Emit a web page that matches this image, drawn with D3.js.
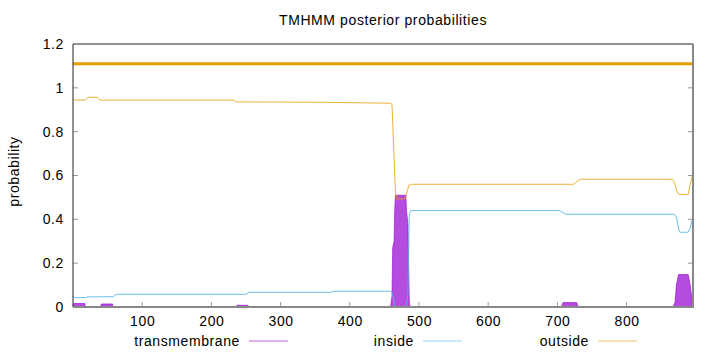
<!DOCTYPE html>
<html>
<head>
<meta charset="utf-8">
<script src="https://cdn.jsdelivr.net/npm/d3@7"></script>
<style>
  body { margin: 0; background: white; }
  text { font-family: "Liberation Sans", Arial, sans-serif; letter-spacing: 0.6px; }
</style>
</head>
<body>
<div id="wrapper"></div>
<script>
// values (sequence position, probability)
const seqLength = 896
const xTicks = [100, 200, 300, 400, 500, 600, 700, 800]
const yTicks = [0, 0.2, 0.4, 0.6, 0.8, 1, 1.2]

const outsidePos = [0, 3, 18, 22, 35, 39, 232, 236, 360, 458, 461, 466, 468, 480, 483, 486, 488, 724, 727, 733, 866, 869, 873, 876, 889, 892, 895]
const outsideVal = [0.948, 0.944, 0.944, 0.957, 0.957, 0.944, 0.944, 0.936, 0.934, 0.930, 0.925, 0.52, 0.493, 0.493, 0.53, 0.558, 0.56, 0.56, 0.57, 0.583, 0.583, 0.57, 0.525, 0.514, 0.514, 0.56, 0.598]

const insidePos = [0, 3, 18, 22, 58, 63, 250, 254, 372, 377, 458, 461, 465, 467, 481, 484, 486, 488, 703, 706, 712, 869, 872, 876, 878, 889, 892, 895]
const insideVal = [0.05, 0.043, 0.043, 0.046, 0.047, 0.058, 0.058, 0.067, 0.067, 0.072, 0.072, 0.068, 0.005, 0, 0, 0.05, 0.42, 0.44, 0.44, 0.435, 0.423, 0.423, 0.41, 0.345, 0.341, 0.341, 0.36, 0.40]

const tmPos = [0, 1, 17, 18, 40, 41, 57, 58, 236, 237, 253, 254, 459, 461, 462, 464, 465, 466, 481, 482, 484, 486, 487, 706, 708, 728, 730, 867, 870, 872, 875, 889, 892, 895]
const tmVal = [0, 0.016, 0.016, 0, 0, 0.014, 0.014, 0, 0, 0.008, 0.008, 0, 0, 0.05, 0.27, 0.30, 0.45, 0.51, 0.51, 0.44, 0.38, 0.03, 0, 0, 0.02, 0.02, 0, 0, 0.02, 0.1, 0.148, 0.148, 0.1, 0.02]

// predicted topology bar drawn at 1.11
const topoStart = [0]
const topoEnd = [896]
const topoLabel = ["outside"]
const topoLevel = 1.11

const legendNames = ["transmembrane", "inside", "outside"]
const colors = { transmembrane: "#9400d3", inside: "#56b4e9", outside: "#e69f00" }

function drawChart() {
  let dimensions = {
    width: 720,
    height: 352,
    margin: { top: 44, right: 27, bottom: 45, left: 73 },
  }
  dimensions.boundedWidth = dimensions.width - dimensions.margin.left - dimensions.margin.right
  dimensions.boundedHeight = dimensions.height - dimensions.margin.top - dimensions.margin.bottom

  const fontSize = "14px"

  const wrapper = d3.select("#wrapper")
    .append("svg")
    .attr("width", dimensions.width)
    .attr("height", dimensions.height)

  const bounds = wrapper.append("g")
    .attr("transform", `translate(${dimensions.margin.left},${dimensions.margin.top})`)

  const xScale = d3.scaleLinear()
    .domain([0, seqLength])
    .range([0, dimensions.boundedWidth])
  const yScale = d3.scaleLinear()
    .domain([0, 1.2])
    .range([dimensions.boundedHeight, 0])

  const zip = (p, v) => p.map((d, i) => ({ x: d, y: v[i] }))
  const outside = zip(outsidePos, outsideVal)
  const inside = zip(insidePos, insideVal)
  const tm = zip(tmPos, tmVal)

  // ticks (inward, mirrored)
  const tickColor = "#999"
  yTicks.forEach(t => {
    if (t === 0 || t === 1.2) return
    bounds.append("line").attr("x1", 0).attr("x2", 5)
      .attr("y1", yScale(t)).attr("y2", yScale(t)).attr("stroke", tickColor)
    bounds.append("line").attr("x1", dimensions.boundedWidth - 5).attr("x2", dimensions.boundedWidth)
      .attr("y1", yScale(t)).attr("y2", yScale(t)).attr("stroke", tickColor)
  })
  xTicks.forEach(t => {
    bounds.append("line").attr("x1", xScale(t)).attr("x2", xScale(t))
      .attr("y1", dimensions.boundedHeight).attr("y2", dimensions.boundedHeight - 5).attr("stroke", tickColor)
  })

  // tick labels
  const yAxis = bounds.append("g")
    .call(d3.axisLeft(yScale).tickValues(yTicks).tickSize(0).tickPadding(9).tickFormat(d3.format("~g")))
  yAxis.select(".domain").remove()
  yAxis.selectAll("text").style("font-size", fontSize).attr("fill", "#000")
    .style("font-family", "'Liberation Sans', Arial, sans-serif")

  const xAxis = bounds.append("g")
    .attr("transform", `translate(0,${dimensions.boundedHeight})`)
    .call(d3.axisBottom(xScale).tickValues(xTicks).tickSize(0).tickPadding(9))
  xAxis.select(".domain").remove()
  xAxis.selectAll("text").style("font-size", fontSize).attr("fill", "#000")
    .style("font-family", "'Liberation Sans', Arial, sans-serif")

  // transmembrane as filled impulses
  const area = d3.area()
    .x(d => xScale(d.x))
    .y0(yScale(0))
    .y1(d => yScale(d.y))
  bounds.append("path")
    .attr("d", area(tm))
    .attr("fill", colors.transmembrane)
    .attr("fill-opacity", 0.7)
    .attr("stroke", colors.transmembrane)
    .attr("stroke-opacity", 0.6)
    .attr("stroke-width", 1)

  const lineGenerator = d3.line()
    .x(d => xScale(d.x))
    .y(d => yScale(d.y))

  bounds.append("path")
    .attr("d", lineGenerator(inside))
    .attr("fill", "none")
    .attr("stroke", colors.inside)
    .attr("stroke-opacity", 0.85)
    .attr("stroke-width", 1)

  bounds.append("path")
    .attr("d", lineGenerator(outside))
    .attr("fill", "none")
    .attr("stroke", colors.outside)
    .attr("stroke-opacity", 0.8)
    .attr("stroke-width", 1)

  // predicted topology bar
  topoStart.forEach((s, i) => {
    bounds.append("line")
      .attr("x1", xScale(s)).attr("x2", xScale(topoEnd[i]))
      .attr("y1", yScale(topoLevel)).attr("y2", yScale(topoLevel))
      .attr("stroke", colors[topoLabel[i]])
      .attr("stroke-width", 3)
  })

  // frame
  bounds.append("path")
    .attr("d", `M0,${dimensions.boundedHeight}V0H${dimensions.boundedWidth}`)
    .attr("fill", "none").attr("stroke", "#222").attr("stroke-width", 1)
  bounds.append("path")
    .attr("d", `M0,${dimensions.boundedHeight}H${dimensions.boundedWidth}V0`)
    .attr("fill", "none").attr("stroke", "#888").attr("stroke-width", 2)

  // title & y label
  wrapper.append("text")
    .attr("x", 383).attr("y", 25)
    .attr("text-anchor", "middle")
    .style("font-size", fontSize)
    .text("TMHMM posterior probabilities")

  wrapper.append("text")
    .attr("transform", `translate(19,${dimensions.margin.top + dimensions.boundedHeight / 2 - 4}) rotate(-90)`)
    .attr("text-anchor", "middle")
    .style("font-size", fontSize)
    .text("probability")

  // legend
  const legendTextEnd = [240, 414, 589]
  legendNames.forEach((name, i) => {
    wrapper.append("text")
      .attr("x", legendTextEnd[i]).attr("y", 346)
      .attr("text-anchor", "end")
      .style("font-size", fontSize)
      .text(name)
    wrapper.append("line")
      .attr("x1", legendTextEnd[i] + 9).attr("x2", legendTextEnd[i] + 48)
      .attr("y1", 341).attr("y2", 341)
      .attr("stroke", colors[name])
      .attr("stroke-opacity", 0.6)
  })
}

drawChart()
</script>
</body>
</html>
